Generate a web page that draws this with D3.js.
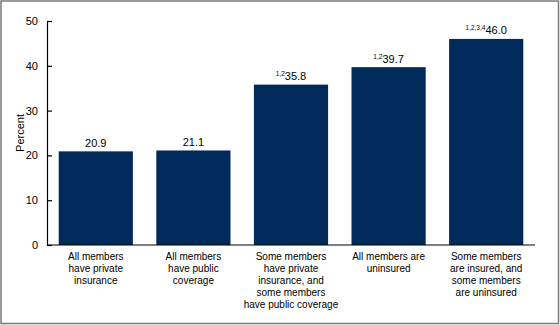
<!DOCTYPE html>
<html>
<head>
<meta charset="utf-8">
<script src="https://cdn.jsdelivr.net/npm/d3@7"></script>
<style>
  html, body { margin: 0; padding: 0; background: #fff; }
  svg { display: block; font-family: "Liberation Sans", Arial, sans-serif; }
</style>
</head>
<body>
<svg id="chart" width="560" height="325"></svg>
<script>
// Household coverage categories (each label split into display lines)
const categories = [
  ["All members", "have private", "insurance"],
  ["All members", "have public", "coverage"],
  ["Some members", "have private", "insurance, and", "some members", "have public coverage"],
  ["All members are", "uninsured"],
  ["Some members", "are insured, and", "some members", "are uninsured"]
];
const values = [20.9, 21.1, 35.8, 39.7, 46.0];
const footnotes = ["", "", "1,2", "1,2", "1,2,3,4"];
const yTicks = [0, 10, 20, 30, 40, 50];

(function () {
  const svg = d3.select("#chart");
  const W = 560, H = 325;

  // outer frame
  svg.append("rect")
    .attr("x", 1).attr("y", 1).attr("width", W - 2.5).attr("height", H - 2.5)
    .attr("fill", "none").attr("stroke", "#7a7a7a").attr("stroke-width", 1.5);

  const plotLeft = 47, plotRight = 535, plotTop = 21, plotBottom = 245;

  const x = d3.scaleBand()
    .domain(d3.range(values.length))
    .range([plotLeft, plotRight])
    .paddingInner(0.24)
    .paddingOuter(0.12);

  const y = d3.scaleLinear().domain([0, 50]).range([plotBottom, plotTop]);

  // bars
  svg.append("g").selectAll("rect")
    .data(values)
    .join("rect")
    .attr("x", (d, i) => x(i))
    .attr("y", d => y(d))
    .attr("width", x.bandwidth())
    .attr("height", d => y(0) - y(d))
    .attr("fill", "#002a5a");

  // y axis
  const yAxis = d3.axisLeft(y).tickValues(yTicks).tickSize(-5).tickPadding(9).tickSizeOuter(0);
  const gy = svg.append("g").attr("transform", `translate(${plotLeft},0)`).call(yAxis);
  gy.select(".domain").attr("stroke", "#000").attr("stroke-width", 1.2);
  gy.selectAll(".tick line").attr("stroke", "#000").attr("stroke-width", 1.2);
  gy.selectAll(".tick text").attr("fill", "#000").style("font-size", "11px")
    .style("font-family", "Liberation Sans, Arial, sans-serif");

  // x axis baseline
  svg.append("line")
    .attr("x1", plotLeft).attr("x2", plotRight)
    .attr("y1", plotBottom).attr("y2", plotBottom)
    .attr("stroke", "#000").attr("stroke-width", 1.2);

  // y axis title
  svg.append("text")
    .attr("transform", `translate(24,${(plotTop + plotBottom) / 2}) rotate(-90)`)
    .attr("text-anchor", "middle")
    .style("font-size", "11px")
    .text("Percent");

  // value labels with footnote superscripts
  const lbl = svg.append("g").selectAll("text")
    .data(values)
    .join("text")
    .attr("x", (d, i) => x(i) + x.bandwidth() / 2)
    .attr("y", d => y(d) - 4.5)
    .attr("text-anchor", "middle")
    .style("font-size", "11px");
  lbl.each(function (d, i) {
    const t = d3.select(this);
    if (footnotes[i]) {
      t.append("tspan").style("font-size", "6.5px").attr("dy", -4).text(footnotes[i]);
      t.append("tspan").attr("dy", 4).text(d.toFixed(1));
    } else {
      t.append("tspan").text(d.toFixed(1));
    }
  });

  // category labels
  svg.append("g").selectAll("text")
    .data(categories)
    .join("text")
    .attr("x", (d, i) => x(i) + x.bandwidth() / 2)
    .attr("y", 260)
    .attr("text-anchor", "middle")
    .style("font-size", "10px")
    .each(function (lines) {
      const t = d3.select(this);
      lines.forEach((ln, k) => {
        t.append("tspan")
          .attr("x", t.attr("x"))
          .attr("dy", k === 0 ? 0 : 12)
          .text(ln);
      });
    });
})();
</script>
</body>
</html>
